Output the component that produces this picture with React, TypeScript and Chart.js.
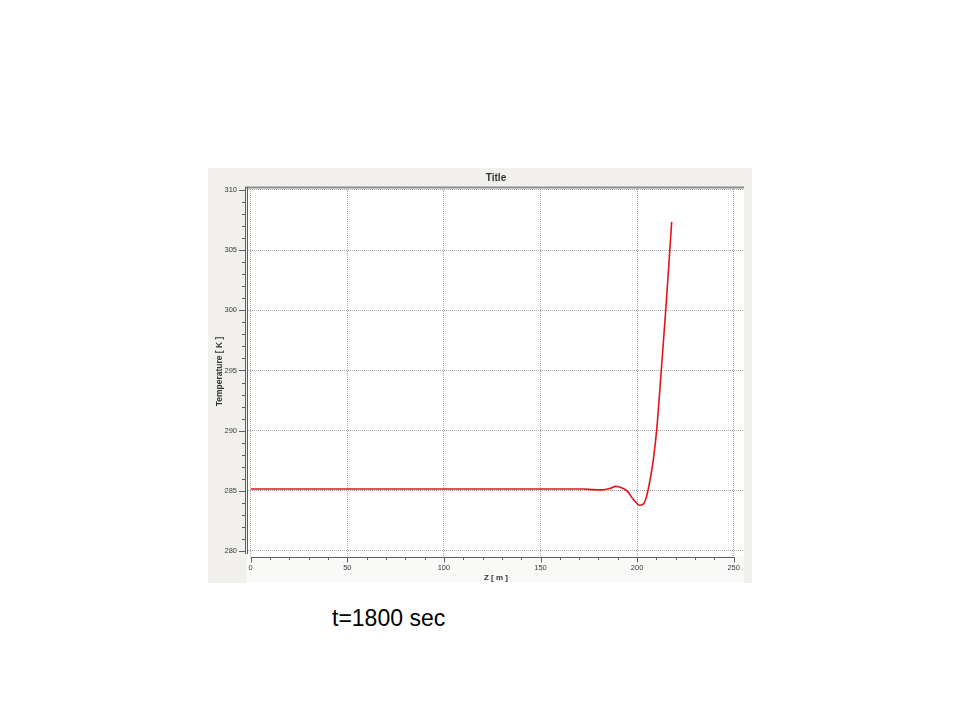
import React, { useEffect, useRef } from "react";
import { Chart, registerables } from "chart.js";

Chart.register(...registerables);

// Data
const zValues = [0, 50, 100, 150, 172, 177, 182, 186, 189, 192, 195, 198, 201.5, 203.5, 205, 206.7, 208.4, 210.1, 212.6, 215.0, 217.9];
const temperatures = [285.15, 285.15, 285.15, 285.15, 285.15, 285.1, 285.08, 285.2, 285.37, 285.25, 284.95, 284.3, 283.8, 283.95, 284.6, 285.9, 287.6, 290.0, 295.2, 300.4, 307.35];
const xTickValues = [0, 50, 100, 150, 200, 250];
const yTickValues = [280, 285, 290, 295, 300, 305, 310];
const xMinorStep = 10;
const yMinorStep = 1;

const chartTitle = "Title";
const xAxisTitle = "Z [ m ]";
const yAxisTitle = "Temperature [ K ]";
const caption = "t=1800 sec";

const axisDecor = {
  id: "axisDecor",
  beforeDraw(chart: any) {
    const { ctx, chartArea } = chart;
    ctx.save();
    ctx.fillStyle = "#ffffff";
    ctx.fillRect(chartArea.left, chartArea.top, chartArea.right - chartArea.left, chartArea.bottom - chartArea.top);
    ctx.fillStyle = "#f9f9f8";
    ctx.fillRect(chartArea.left - 2, chartArea.bottom, chartArea.right - chartArea.left + 2, chart.height - chartArea.bottom);
    ctx.restore();
  },
  afterDraw(chart: any) {
    const { ctx, chartArea } = chart;
    const xs = chart.scales.x;
    const ys = chart.scales.y;
    ctx.save();
    // top frame line
    ctx.strokeStyle = "#8c8c8c";
    ctx.lineWidth = 2;
    ctx.beginPath();
    ctx.moveTo(chartArea.left - 3, chartArea.top + 0.5);
    ctx.lineTo(chartArea.right, chartArea.top + 0.5);
    ctx.stroke();
    // y axis double line
    const yMin = yTickValues[0];
    const yMax = yTickValues[yTickValues.length - 1];
    const yBottom = ys.getPixelForValue(yMin) + 3;
    ctx.lineWidth = 1;
    ctx.strokeStyle = "#5e5e5e";
    for (const off of [-2.5, -0.5]) {
      ctx.beginPath();
      ctx.moveTo(chartArea.left + off, chartArea.top);
      ctx.lineTo(chartArea.left + off, yBottom);
      ctx.stroke();
    }
    // y ticks
    const ax = chartArea.left - 3;
    for (let v = yMin; v <= yMax + 1e-9; v += yMinorStep) {
      const py = Math.round(ys.getPixelForValue(v)) + 0.5;
      const major = Math.abs(v % 5) < 1e-6;
      ctx.beginPath();
      ctx.moveTo(ax, py);
      ctx.lineTo(ax - (major ? 6 : 3), py);
      ctx.stroke();
    }
    // x axis line
    const xMin = xTickValues[0];
    const xMax = xTickValues[xTickValues.length - 1];
    const axY = chartArea.bottom + 1.5;
    ctx.beginPath();
    ctx.moveTo(xs.getPixelForValue(xMin), axY);
    ctx.lineTo(xs.getPixelForValue(xMax) + 1, axY);
    ctx.stroke();
    for (let v = xMin; v <= xMax + 1e-9; v += xMinorStep) {
      const px = Math.round(xs.getPixelForValue(v)) + 0.5;
      const major = Math.abs(v % 50) < 1e-6;
      ctx.beginPath();
      ctx.moveTo(px, axY);
      ctx.lineTo(px, axY + (major ? 5 : 2.5));
      ctx.stroke();
    }
    ctx.restore();
  },
};

function TemperatureChart() {
  const canvasRef = useRef<HTMLCanvasElement | null>(null);
  useEffect(() => {
    const canvas = canvasRef.current;
    if (!canvas) return;
    const tickFont = { family: "'Liberation Sans', Arial, sans-serif", size: 7.5 };
    const chart = new Chart(canvas, {
      type: "line",
      data: {
        datasets: [
          {
            data: zValues.map((z, i) => ({ x: z, y: temperatures[i] })),
            borderColor: "#e3141b",
            borderWidth: 1.6,
            pointRadius: 0,
            cubicInterpolationMode: "monotone",
            fill: false,
          },
        ],
      },
      options: {
        responsive: false,
        animation: false,
        devicePixelRatio: 1,
        layout: { padding: { left: 0, right: 8, top: 0, bottom: 0 } },
        plugins: {
          legend: { display: false },
          tooltip: { enabled: false },
          title: {
            display: true,
            text: chartTitle,
            fullSize: false,
            color: "#333333",
            font: { family: "'Liberation Sans', Arial, sans-serif", size: 10, weight: "bold" },
            padding: { top: 4, bottom: 3 },
          },
        },
        scales: {
          x: {
            type: "linear",
            min: -1.4,
            max: 255.33,
            afterBuildTicks: (s: any) => {
              s.ticks = xTickValues.map((v) => ({ value: v }));
            },
            afterFit: (s: any) => {
              s.height = 27;
            },
            ticks: { font: tickFont, color: "#3a3a3a", padding: 7.2, maxRotation: 0, autoSkip: false },
            grid: { color: "#a8a8a8", lineWidth: 1, drawTicks: false },
            border: { display: false, dash: [1, 1] },
            title: {
              display: true,
              text: xAxisTitle,
              color: "#333333",
              font: { family: "'Liberation Sans', Arial, sans-serif", size: 8, weight: "bold" },
              padding: { top: 0, bottom: 0.9 },
            },
          },
          y: {
            type: "linear",
            min: 279.584,
            max: 310.249,
            afterBuildTicks: (s: any) => {
              s.ticks = yTickValues.map((v) => ({ value: v }));
            },
            afterFit: (s: any) => {
              s.width = 40;
            },
            ticks: { font: tickFont, color: "#3a3a3a", padding: 11, autoSkip: false },
            grid: { color: "#a8a8a8", lineWidth: 1, drawTicks: false },
            border: { display: false, dash: [1, 1] },
            title: {
              display: true,
              text: yAxisTitle,
              color: "#333333",
              font: { family: "'Liberation Sans', Arial, sans-serif", size: 8.5, weight: "bold" },
              padding: { top: 6.2, bottom: 0 },
            },
          },
        },
      },
      plugins: [axisDecor],
    } as any);
    return () => chart.destroy();
  }, []);
  return (
    <canvas
      ref={canvasRef}
      width={544}
      height={415}
      style={{ position: "absolute", left: 0, top: 0, width: 544, height: 415 }}
    />
  );
}

export default function App() {
  return (
    <div style={{ position: "absolute", left: 0, top: 0, width: 960, height: 720, background: "#ffffff", overflow: "hidden" }}>
      <div style={{ position: "absolute", left: 208, top: 168, width: 544, height: 415, background: "#f1f0ec" }}>
        <TemperatureChart />
      </div>
      <div
        style={{
          position: "absolute",
          left: 332,
          top: 607,
          fontFamily: "'Liberation Sans', Arial, sans-serif",
          fontSize: 23,
          lineHeight: "23px",
          color: "#000000",
          whiteSpace: "nowrap",
        }}
      >
        {caption}
      </div>
    </div>
  );
}
